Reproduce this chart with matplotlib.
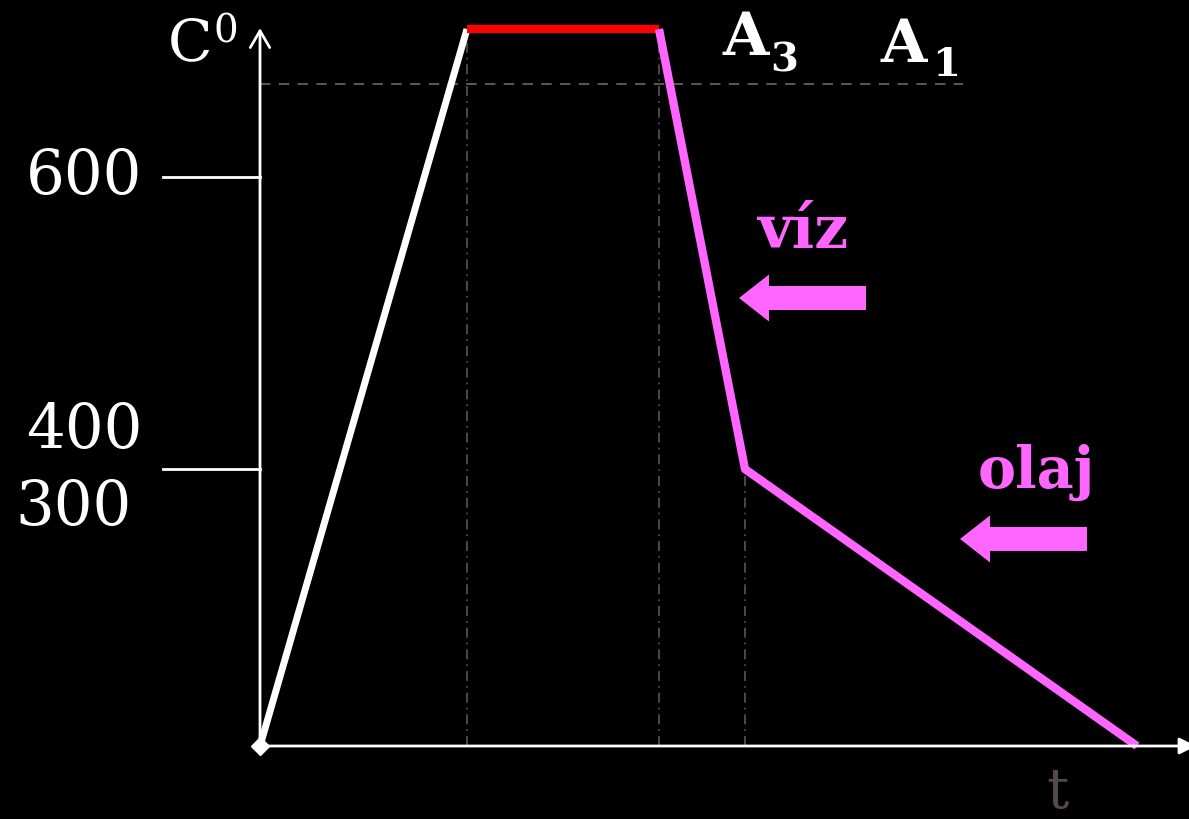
import matplotlib
matplotlib.use("Agg")
import matplotlib.pyplot as plt
from matplotlib.patches import FancyArrow

# heating / quenching curve (time units ~ px, temperature in C)
time_pts = [0, 207, 399, 485, 877]
temp_pts = [0, 756, 756, 292, 0]
ytick_vals = [600, 292]
a_line_temp = 698
guide_times = [207, 399, 485]
guide_tops = [756, 756, 292]

k = 569 / 600  # px per degree
white = "white"
magenta = "#ff66ff"
guide = "#5c5450"

fig = plt.figure(figsize=(11.89, 8.2), dpi=100, facecolor="black")
ax = fig.add_axes([0, 0, 1, 1])
ax.set_facecolor("black")
ax.set_xlim(-260, 929)
ax.set_ylim(-(820 - 747) / k, 747 / k)
ax.axis("off")

# guide lines
ax.plot([0, 703], [a_line_temp, a_line_temp], color=guide, lw=1.5,
        dashes=(5, 4))
for t, top in zip(guide_times, guide_tops):
    ax.plot([t, t], [0, top], color=guide, lw=1.2, dashes=(6, 3, 1, 3))

# axes
ax.annotate("", xy=(0, 757), xytext=(0, 0),
            arrowprops=dict(arrowstyle="->,head_length=0.6,head_width=0.35",
                            color=white, lw=2, mutation_scale=20,
                            shrinkA=0, shrinkB=0))
ax.annotate("", xy=(936, 0), xytext=(0, 0), annotation_clip=False,
            arrowprops=dict(arrowstyle="-|>,head_length=0.5,head_width=0.25",
                            color=white, lw=2, mutation_scale=20,
                            shrinkA=0, shrinkB=0))
for v in ytick_vals:
    ax.plot([-97, 0], [v, v], color=white, lw=2)

# curve
ax.plot(time_pts[:2], temp_pts[:2], color=white, lw=5, solid_capstyle="butt")
ax.plot(time_pts[0], temp_pts[0], marker="D", color=white, ms=9)
ax.plot(time_pts[1:3], temp_pts[1:3], color="#ff0000", lw=6,
        solid_capstyle="butt")
ax.plot(time_pts[2:], temp_pts[2:], color=magenta, lw=6,
        solid_capstyle="butt")

# labels
serif = "DejaVu Serif"
ax.text(-118, 602, "600", color=white, fontsize=44, family=serif,
        ha="right", va="center")
ax.text(-118, 334, "400", color=white, fontsize=44, family=serif,
        ha="right", va="center")
ax.text(-128, 253, "300", color=white, fontsize=44, family=serif,
        ha="right", va="center")
ax.text(-92, 724, "C", color=white, fontsize=42, family=serif,
        ha="left", va="baseline")
ax.text(-46, 743, "0", color=white, fontsize=28, family=serif,
        ha="left", va="baseline")

ax.text(463, 730, "A", color=white, fontsize=43, family=serif,
        weight="bold", ha="left", va="baseline")
ax.text(510, 712, "3", color=white, fontsize=29, family=serif,
        weight="bold", ha="left", va="baseline")
ax.text(621, 722, "A", color=white, fontsize=43, family=serif,
        weight="bold", ha="left", va="baseline")
ax.text(672, 708, "1", color=white, fontsize=29, family=serif,
        weight="bold", ha="left", va="baseline")

ax.text(497, 526, "víz", color=magenta, fontsize=43, family=serif,
        weight="bold", ha="left", va="baseline")
ax.text(718, 273, "olaj", color=magenta, fontsize=41, family=serif,
        weight="bold", ha="left", va="baseline")

ax.add_patch(FancyArrow(606, 472.4, -127, 0, width=24 / k,
                        head_width=47 / k, head_length=30,
                        length_includes_head=True, color=magenta, lw=0))
ax.add_patch(FancyArrow(827, 218.3, -127, 0, width=24 / k,
                        head_width=47 / k, head_length=30,
                        length_includes_head=True, color=magenta, lw=0))

ax.text(797, -(808 - 747) / k, "t", color="#544a45", fontsize=40,
        family=serif, ha="center", va="baseline")

fig.savefig("out.png", dpi=100, facecolor="black")
